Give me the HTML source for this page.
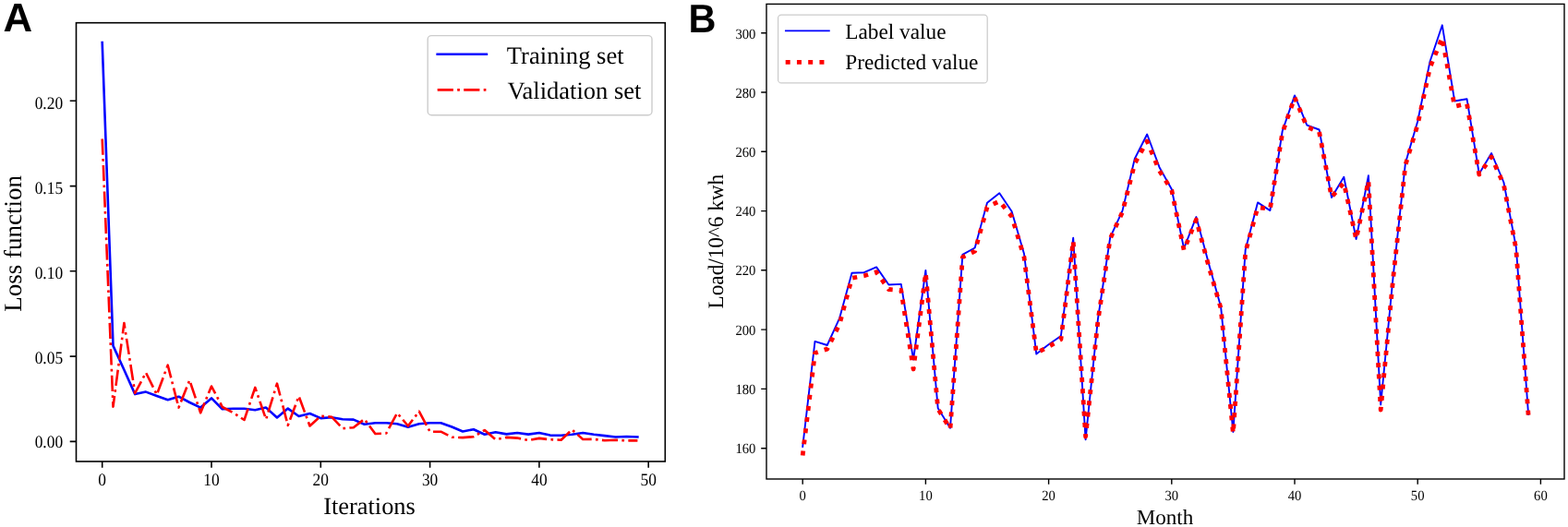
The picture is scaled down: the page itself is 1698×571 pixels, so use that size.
<!DOCTYPE html>
<html><head><meta charset="utf-8"><title>Figure</title>
<style>
html,body{margin:0;padding:0;background:#fff;}
body{width:1698px;height:571px;overflow:hidden;}
svg{display:block;}
.t{font-family:"Liberation Serif", "Times New Roman", serif;fill:#000;text-rendering:geometricPrecision;}
.lab{font-family:"Liberation Sans", Arial, sans-serif;font-weight:bold;fill:#000;text-rendering:geometricPrecision;}
</style></head><body>
<svg width="1698" height="571" viewBox="0 0 1698 571">
<rect width="1698" height="571" fill="#fff"/>

<text class="lab" x="3.6" y="34.4" font-size="43.8">A</text>
<text class="lab" transform="translate(745.4,34.65) scale(0.955,1)" font-size="43.4">B</text>
<defs><clipPath id="ca"><rect x="82.5" y="24.7" width="637.8" height="475.3"/></clipPath><clipPath id="cb"><rect x="830" y="4.6" width="864" height="514.5"/></clipPath></defs>
<g clip-path="url(#ca)">
<polyline points="110.7,46.0 122.5,374.6 134.4,400.8 146.2,427.1 158.0,424.6 169.8,429.0 181.7,433.2 193.5,429.7 205.3,436.0 217.2,441.6 229.0,431.4 240.8,443.3 252.7,442.8 264.5,442.8 276.3,444.2 288.1,441.6 300.0,452.5 311.8,442.6 323.6,451.0 335.5,448.0 347.3,453.1 359.1,452.2 371.0,454.3 382.8,454.6 394.6,459.7 406.4,458.3 418.3,458.3 430.1,459.3 441.9,462.8 453.8,459.3 465.6,458.3 477.4,458.3 489.3,462.5 501.1,467.5 512.9,465.2 524.8,470.7 536.6,468.3 548.4,470.4 560.2,469.0 572.1,470.6 583.9,469.0 595.7,471.6 607.6,471.8 619.4,470.7 631.2,469.0 643.1,470.7 654.9,472.1 666.7,473.5 678.5,473.0 690.4,473.5" fill="none" stroke="#0000ff" stroke-width="2.6" stroke-linejoin="round" stroke-linecap="square"/>
<polyline points="110.7,150.5 122.5,440.7 134.4,350.0 146.2,426.0 158.0,403.8 169.8,427.6 181.7,395.7 193.5,441.6 205.3,412.0 217.2,447.3 229.0,418.5 240.8,441.0 252.7,447.3 264.5,455.0 276.3,419.9 288.1,454.3 300.0,415.7 311.8,460.8 323.6,429.3 335.5,461.5 347.3,450.8 359.1,451.7 371.0,464.2 382.8,463.2 394.6,454.1 406.4,470.0 418.3,469.5 430.1,447.5 441.9,461.5 453.8,445.7 465.6,467.7 477.4,467.7 489.3,473.7 501.1,474.1 512.9,473.2 524.8,466.0 536.6,476.3 548.4,473.9 560.2,474.6 572.1,477.0 583.9,474.9 595.7,476.3 607.6,476.7 619.4,465.5 631.2,476.0 643.1,475.9 654.9,477.2 666.7,476.7 678.5,477.4 690.4,477.4" fill="none" stroke="#ff0000" stroke-width="2.6" stroke-linejoin="round" stroke-dasharray="17.2 4.3 2.7 4.3"/>
</g>
<rect x="82.5" y="24.7" width="637.8" height="475.3" fill="none" stroke="#000" stroke-width="1.6"/>
<text class="t" transform="translate(110.7,525.8) scale(0.915,1)" font-size="19" text-anchor="middle">0</text>
<text class="t" transform="translate(229.0,525.8) scale(0.915,1)" font-size="19" text-anchor="middle">10</text>
<text class="t" transform="translate(347.3,525.8) scale(0.915,1)" font-size="19" text-anchor="middle">20</text>
<text class="t" transform="translate(465.6,525.8) scale(0.915,1)" font-size="19" text-anchor="middle">30</text>
<text class="t" transform="translate(583.9,525.8) scale(0.915,1)" font-size="19" text-anchor="middle">40</text>
<text class="t" transform="translate(702.2,525.8) scale(0.915,1)" font-size="19" text-anchor="middle">50</text>
<text class="t" transform="translate(68.1,485.3) scale(0.915,1)" font-size="19" text-anchor="end">0.00</text>
<text class="t" transform="translate(68.1,393.8) scale(0.915,1)" font-size="19" text-anchor="end">0.05</text>
<text class="t" transform="translate(68.1,301.5) scale(0.915,1)" font-size="19" text-anchor="end">0.10</text>
<text class="t" transform="translate(68.1,210.1) scale(0.915,1)" font-size="19" text-anchor="end">0.15</text>
<text class="t" transform="translate(68.1,117.7) scale(0.915,1)" font-size="19" text-anchor="end">0.20</text>
<path d="M110.7,500.0v6.8 M229.0,500.0v6.8 M347.3,500.0v6.8 M465.6,500.0v6.8 M583.9,500.0v6.8 M702.2,500.0v6.8 M82.5,478.4h-6.8 M82.5,386.1h-6.8 M82.5,293.8h-6.8 M82.5,201.6h-6.8 M82.5,109.3h-6.8" stroke="#000" stroke-width="1.6" fill="none"/>
<text class="t" x="400" y="556.9" font-size="26.4" text-anchor="middle">Iterations</text>
<text class="t" transform="translate(22.6,263.9) rotate(-90)" x="0" y="0" font-size="27" text-anchor="middle">Loss function</text>
<rect x="463.2" y="38.6" width="242.8" height="86.2" rx="4" ry="4" fill="#fff" fill-opacity="0.8" stroke="#cccccc" stroke-width="1.4"/>
<line x1="473.7" y1="58.8" x2="526.9" y2="58.8" stroke="#0000ff" stroke-width="2.6" stroke-linecap="square"/>
<line x1="473.7" y1="97.4" x2="526.9" y2="97.4" stroke="#ff0000" stroke-width="2.6" stroke-dasharray="17.2 4.3 2.7 4.3"/>
<text class="t" x="548.8" y="69" font-size="26.6">Training set</text>
<text class="t" x="549.4" y="107.2" font-size="26.5">Validation set</text>
<g clip-path="url(#cb)">
<polyline points="869.2,484.0 882.5,369.9 895.8,374.0 909.2,344.6 922.5,295.7 935.8,295.2 949.1,289.4 962.4,308.5 975.8,307.9 989.1,389.6 1002.4,293.0 1015.7,442.2 1029.0,463.8 1042.4,275.9 1055.7,268.5 1069.0,219.8 1082.3,209.3 1095.6,229.0 1109.0,275.0 1122.3,383.6 1135.6,373.3 1148.9,364.0 1162.2,257.8 1175.6,476.3 1188.9,346.0 1202.2,257.3 1215.5,228.4 1228.8,172.0 1242.2,145.5 1255.5,181.2 1268.8,205.0 1282.1,269.2 1295.4,235.1 1308.8,285.0 1322.1,332.4 1335.4,468.0 1348.7,270.5 1362.0,219.4 1375.4,228.1 1388.7,142.0 1402.0,103.4 1415.3,135.7 1428.6,140.5 1442.0,214.1 1455.3,191.7 1468.6,259.0 1481.9,190.3 1495.2,438.5 1508.6,300.0 1521.9,176.8 1535.2,131.5 1548.5,66.8 1561.8,27.3 1575.2,109.5 1588.5,107.2 1601.8,188.3 1615.1,166.0 1628.4,197.5 1641.8,268.0 1655.1,449.0" fill="none" stroke="#0000ff" stroke-width="1.9" stroke-linejoin="round" stroke-linecap="square"/>
<polyline points="869.2,493.5 882.5,382.5 895.8,378.1 909.2,351.0 922.5,301.3 935.8,298.8 949.1,294.7 962.4,313.5 975.8,314.5 989.1,400.0 1002.4,295.8 1015.7,443.0 1029.0,464.5 1042.4,278.6 1055.7,272.2 1069.0,224.4 1082.3,218.0 1095.6,234.5 1109.0,278.6 1122.3,382.4 1135.6,375.5 1148.9,367.7 1162.2,261.0 1175.6,473.0 1188.9,348.0 1202.2,258.6 1215.5,229.7 1228.8,177.2 1242.2,153.0 1255.5,185.0 1268.8,206.0 1282.1,271.0 1295.4,238.0 1308.8,288.0 1322.1,334.0 1335.4,469.5 1348.7,273.0 1362.0,224.6 1375.4,226.4 1388.7,144.0 1402.0,105.5 1415.3,137.5 1428.6,143.0 1442.0,213.5 1455.3,198.1 1468.6,259.0 1481.9,195.9 1495.2,444.0 1508.6,302.0 1521.9,179.0 1535.2,135.0 1548.5,73.3 1561.8,40.9 1575.2,115.3 1588.5,112.1 1601.8,189.0 1615.1,170.0 1628.4,200.0 1641.8,270.0 1655.1,450.0" fill="none" stroke="#ff0000" stroke-width="4.8" stroke-linejoin="round" stroke-dasharray="5 7.25"/>
</g>
<rect x="830" y="4.4" width="864" height="514.6" fill="none" stroke="#000" stroke-width="1.4"/>
<text class="t" transform="translate(869.2,541.8) scale(0.94,1)" font-size="15.6" text-anchor="middle">0</text>
<text class="t" transform="translate(1002.4,541.8) scale(0.94,1)" font-size="15.6" text-anchor="middle">10</text>
<text class="t" transform="translate(1135.6,541.8) scale(0.94,1)" font-size="15.6" text-anchor="middle">20</text>
<text class="t" transform="translate(1268.8,541.8) scale(0.94,1)" font-size="15.6" text-anchor="middle">30</text>
<text class="t" transform="translate(1402.0,541.8) scale(0.94,1)" font-size="15.6" text-anchor="middle">40</text>
<text class="t" transform="translate(1535.2,541.8) scale(0.94,1)" font-size="15.6" text-anchor="middle">50</text>
<text class="t" transform="translate(1668.4,541.8) scale(0.94,1)" font-size="15.6" text-anchor="middle">60</text>
<text class="t" transform="translate(818.4,490.5) scale(0.94,1)" font-size="15.6" text-anchor="end">160</text>
<text class="t" transform="translate(818.4,426.9) scale(0.94,1)" font-size="15.6" text-anchor="end">180</text>
<text class="t" transform="translate(818.4,362.5) scale(0.94,1)" font-size="15.6" text-anchor="end">200</text>
<text class="t" transform="translate(818.4,297.6) scale(0.94,1)" font-size="15.6" text-anchor="end">220</text>
<text class="t" transform="translate(818.4,234.4) scale(0.94,1)" font-size="15.6" text-anchor="end">240</text>
<text class="t" transform="translate(818.4,169.8) scale(0.94,1)" font-size="15.6" text-anchor="end">260</text>
<text class="t" transform="translate(818.4,106.2) scale(0.94,1)" font-size="15.6" text-anchor="end">280</text>
<text class="t" transform="translate(818.4,41.7) scale(0.94,1)" font-size="15.6" text-anchor="end">300</text>
<path d="M869.2,519.0v5.8 M1002.4,519.0v5.8 M1135.6,519.0v5.8 M1268.8,519.0v5.8 M1402.0,519.0v5.8 M1535.2,519.0v5.8 M1668.4,519.0v5.8 M830,485.7h-5.8 M830,421.4h-5.8 M830,357.1h-5.8 M830,292.8h-5.8 M830,228.6h-5.8 M830,164.3h-5.8 M830,100.0h-5.8 M830,35.7h-5.8" stroke="#000" stroke-width="1.4" fill="none"/>
<text class="t" transform="translate(1261.5,567.6) scale(1,1)" font-size="23.1" text-anchor="middle">Month</text>
<text class="t" transform="translate(783.4,261.6) rotate(-90) scale(0.98,1)" x="0" y="0" font-size="23.7" text-anchor="middle">Load/10^6 kwh</text>
<rect x="842.6" y="16.1" width="226.6" height="73.8" rx="3.5" ry="3.5" fill="#fff" fill-opacity="0.8" stroke="#cccccc" stroke-width="1.25"/>
<line x1="850.9" y1="33.4" x2="897.8" y2="33.4" stroke="#0000ff" stroke-width="1.9" stroke-linecap="square"/>
<line x1="850.7" y1="67.4" x2="898" y2="67.4" stroke="#ff0000" stroke-width="4.8" stroke-dasharray="5 7.25"/>
<text class="t" transform="translate(915.2,41.6) scale(1,1)" font-size="23.3">Label value</text>
<text class="t" transform="translate(915.2,75.2) scale(1,1)" font-size="23.3">Predicted value</text>
</svg></body></html>
